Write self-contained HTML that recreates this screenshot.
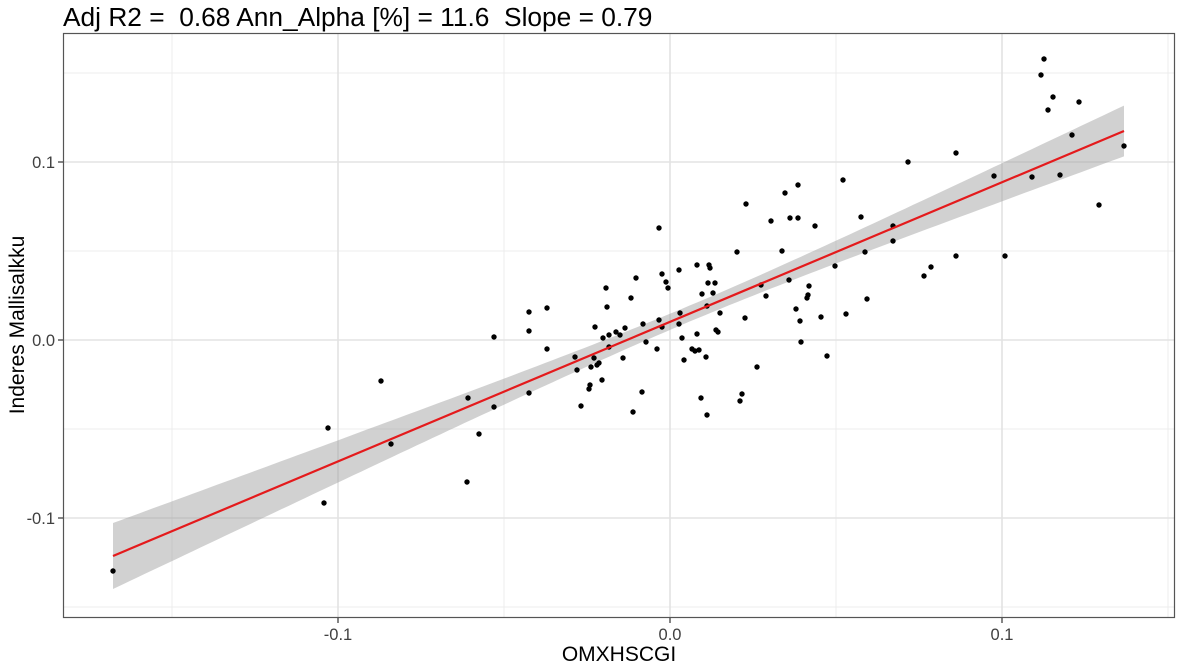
<!DOCTYPE html>
<html><head><meta charset="utf-8"><style>
html,body{margin:0;padding:0;background:#fff;}
svg{display:block;font-family:"Liberation Sans",Arial,sans-serif;}
</style></head><body>
<svg id="s" width="1181" height="665" viewBox="0 0 1181 665" xmlns="http://www.w3.org/2000/svg">
<rect width="1181" height="665" fill="#fff"/>
<g stroke="#ececec" stroke-width="1">
<line x1="172" y1="33" x2="172" y2="617"/><line x1="504" y1="33" x2="504" y2="617"/><line x1="836" y1="33" x2="836" y2="617"/><line x1="1168" y1="33" x2="1168" y2="617"/>
<line x1="64" y1="73" x2="1174" y2="73"/><line x1="64" y1="251" x2="1174" y2="251"/><line x1="64" y1="429" x2="1174" y2="429"/><line x1="64" y1="607" x2="1174" y2="607"/>
</g>
<g stroke="#e3e3e3" stroke-width="1.6">
<line x1="338" y1="33" x2="338" y2="617"/><line x1="670" y1="33" x2="670" y2="617"/><line x1="1002" y1="33" x2="1002" y2="617"/>
<line x1="64" y1="162" x2="1174" y2="162"/><line x1="64" y1="340" x2="1174" y2="340"/><line x1="64" y1="518" x2="1174" y2="518"/>
</g>
<polygon id="band" fill="#999" fill-opacity="0.45"/>
<g id="pts" fill="#000"></g>
<line x1="113" y1="556" x2="1124" y2="131" stroke="#e41a1c" stroke-width="2.2"/>
<rect x="63.5" y="33.5" width="1111" height="584" fill="none" stroke="#555" stroke-width="1.2"/>
<g stroke="#333" stroke-width="1.2">
<line x1="58" y1="162" x2="63" y2="162"/><line x1="58" y1="340" x2="63" y2="340"/><line x1="58" y1="518" x2="63" y2="518"/>
<line x1="338" y1="618" x2="338" y2="623"/><line x1="670" y1="618" x2="670" y2="623"/><line x1="1002" y1="618" x2="1002" y2="623"/>
</g>
<g fill="#404040" font-size="16.5">
<text x="55" y="168" text-anchor="end">0.1</text><text x="55" y="346" text-anchor="end">0.0</text><text x="55" y="524" text-anchor="end">-0.1</text>
<text x="338" y="640" text-anchor="middle">-0.1</text><text x="670" y="640" text-anchor="middle">0.0</text><text x="1002" y="640" text-anchor="middle">0.1</text>
</g>
<text x="619" y="661" font-size="21" text-anchor="middle" fill="#000">OMXHSCGI</text>
<text transform="translate(24,325) rotate(-90)" font-size="21" text-anchor="middle" fill="#000">Inderes Mallisalkku</text>
<text x="63" y="26" font-size="26.3" fill="#000" xml:space="preserve">Adj R2 =  0.68 Ann_Alpha [%] = 11.6  Slope = 0.79</text>
</svg>
<script>
var P=[[494,337],[494,407],[529,312],[529,331],[547,308],[547,349],[529,393],[575,357],[577,370],[581,406],[589,389],[590,385],[591,367],[594,358],[595,327],[597,365],[599,363],[602,380],[603,338],[606,288],[607,307],[609,347],[609,335],[616,332],[620,335],[623,358],[625,328],[631,298],[633,412],[636,278],[642,392],[643,324],[646,342],[657,349],[659,228],[659,320],[662,327],[662,274],[666,282],[668,288],[679,270],[679,324],[680,313],[682,338],[684,360],[692,349],[695,351],[697,265],[697,334],[699,350],[701,398],[702,294],[706,357],[707,306],[707,415],[708,283],[709,265],[710,268],[713,293],[715,283],[716,330],[718,332],[720,313],[737,252],[740,401],[742,394],[745,318],[746,204],[757,367],[761,285],[766,296],[771,221],[782,251],[785,193],[789,280],[790,218],[796,309],[798,218],[798,185],[800,321],[801,342],[807,298],[808,295],[809,286],[815,226],[821,317],[827,356],[835,266],[843,180],[846,314],[861,217],[865,252],[867,299],
[113,571],[324,503],[328,428],[381,381],[391,444],[468,398],[467,482],[479,434],[893,241],[893,226],[908,162],[924,276],[931,267],[956,256],[956,153],[994,176],[1005,256],[1032,177],[1044,59],[1041,75],[1048,110],[1053,97],[1060,175],[1072,135],[1079,102],[1099,205],[1124,146]];
var g=document.getElementById('pts'),h='';
P.forEach(function(p){h+='<circle cx="'+p[0]+'" cy="'+p[1]+'" r="2.7"/>';});
g.innerHTML=h;
function yl(x){return 556-0.4204*(x-113);}
function hw(x){return Math.sqrt(64+0.00308*(x-690)*(x-690));}
var up=[],lo=[];
for(var x=113;x<=1124;x+=8){up.push(x+','+(yl(x)-hw(x)).toFixed(1));lo.unshift(x+','+(yl(x)+hw(x)).toFixed(1));}
up.push('1124,'+(yl(1124)-hw(1124)).toFixed(1));lo.unshift('1124,'+(yl(1124)+hw(1124)).toFixed(1));
document.getElementById('band').setAttribute('points',up.concat(lo).join(' '));
</script>
</body></html>
